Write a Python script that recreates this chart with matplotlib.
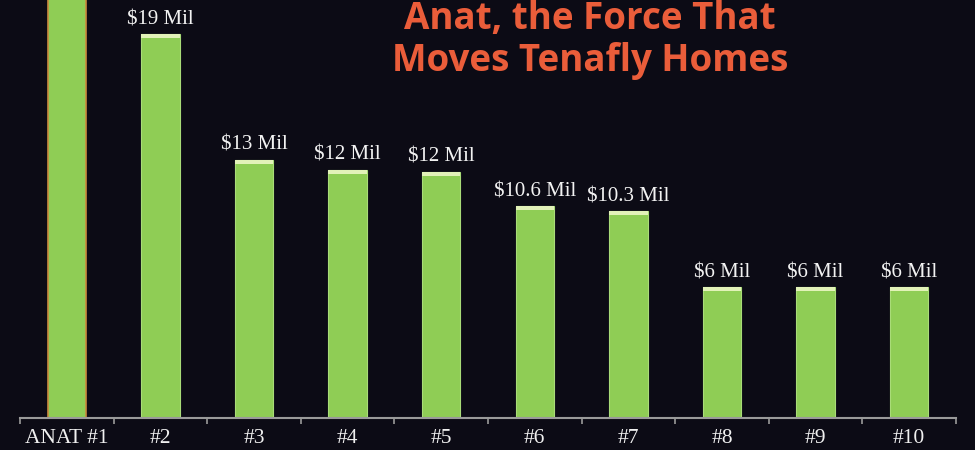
import matplotlib.pyplot as plt

# data
categories = ["ANAT #1", "#2", "#3", "#4", "#5", "#6", "#7", "#8", "#9", "#10"]
heights = [24, 19, 12.8, 12.3, 12.2, 10.5, 10.25, 6.5, 6.5, 6.5]   # bar heights, $ Mil
labels = ["", "$19 Mil", "$13 Mil", "$12 Mil", "$12 Mil", "$10.6 Mil",
          "$10.3 Mil", "$6 Mil", "$6 Mil", "$6 Mil"]

bg = "#0c0b15"
green = "#8fcd55"
bevel = "#e2f2b8"

fig = plt.figure(figsize=(9.75, 4.5), dpi=100, facecolor=bg)
ax = fig.add_axes([20/975, 32/450, 936/975, 418/450])
ax.set_facecolor(bg)

x = list(range(len(categories)))
bars = ax.bar(x, heights, width=0.41, color=green, edgecolor="#a9dc78", linewidth=0.8, zorder=2)
bars[0].set_edgecolor("#c98a3e")
bars[0].set_linewidth(1.2)

# light bevel along the top of each bar
ax.bar(x, [0.2] * len(x), bottom=[h - 0.2 for h in heights], width=0.41,
       color=bevel, linewidth=0, zorder=3)

for xi, h, lab in zip(x, heights, labels):
    if lab:
        ax.annotate(lab, (xi, h), xytext=(0, 7), textcoords="offset points",
                    ha="center", va="baseline", color="#f2f2f2",
                    fontsize=15, family="Liberation Serif")

ax.set_xlim(-0.5, 9.5)
ax.set_ylim(0, 20.7)
ax.set_xticks(x)
ax.set_xticklabels(categories, family="Liberation Serif", fontsize=15.5, color="#f0f0f0")
ax.set_xticks([i - 0.5 for i in range(len(x) + 1)], minor=True)
ax.tick_params(axis="x", which="major", length=0, pad=8)
ax.tick_params(axis="x", which="minor", length=4, width=1.2, color="#9a9a9a", direction="out")
ax.set_yticks([])
for s in ["top", "left", "right"]:
    ax.spines[s].set_visible(False)
ax.spines["bottom"].set_color("#9a9a9a")
ax.spines["bottom"].set_linewidth(1.5)

fig.text(590/975, 1 - 29/450, "Anat, the Force That", ha="center", va="baseline",
         color="#ea5d3a", fontsize=26.5, fontweight="bold", family="Open Sans")
fig.text(590/975, 1 - 71/450, "Moves Tenafly Homes", ha="center", va="baseline",
         color="#ea5d3a", fontsize=26.5, fontweight="bold", family="Open Sans")

plt.savefig("out.png", dpi=100, facecolor=bg)
